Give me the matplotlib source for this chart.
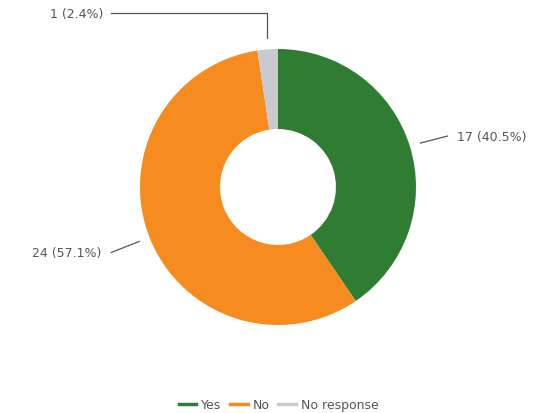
import numpy as np
import matplotlib
matplotlib.use("Agg")
import matplotlib.pyplot as plt
from matplotlib.lines import Line2D

categories = ["Yes", "No", "No response"]
values = [17, 24, 1]
colors = ["#2e7d32", "#f68b1f", "#c8cacf"]

W, H = 546, 414
fig = plt.figure(figsize=(W / 100, H / 100), dpi=100)
ax = fig.add_axes([0, 0, 1, 1])

cx, cy, R = 278, H - 188, 138
wedges, _ = ax.pie(values, colors=colors, startangle=90, counterclock=False,
                   radius=R, center=(cx, cy), frame=True,
                   wedgeprops=dict(width=R * 0.58, linewidth=0))
ax.set_xlim(0, W)
ax.set_ylim(0, H)
ax.set_aspect("equal")
ax.axis("off")

total = sum(values)
labels = [f"{v} ({v / total * 100:.1f}%)" for v in values]
lc = "#555555"
tc = "#555555"
fs = 9

for w, lab in zip(wedges, labels):
    ang = np.deg2rad((w.theta1 + w.theta2) / 2)
    ca, sa = np.cos(ang), np.sin(ang)
    x0, y0 = cx + 1.08 * R * ca, cy + 1.08 * R * sa
    if sa > 0.9:  # near top: elbow leader
        ytop = H - 14
        ax.plot([x0, x0, 111], [y0, ytop, ytop], color=lc, lw=0.9)
        ax.text(103, ytop, lab, ha="right", va="center", fontsize=fs, color=tc)
    elif ca > 0:
        x1, y1 = x0 + 27, y0 + 7
        ax.plot([x0, x1], [y0, y1], color=lc, lw=0.9)
        ax.text(x1 + 10, y1, lab, ha="left", va="center", fontsize=fs, color=tc)
    else:
        x1, y1 = x0 - 28, y0 - 11
        ax.plot([x0, x1], [y0, y1], color=lc, lw=0.9)
        ax.text(x1 - 10, y1, lab, ha="right", va="center", fontsize=fs, color=tc)

handles = [Line2D([0], [0], color=c, lw=2.5) for c in colors]
fig.legend(handles, categories, loc="center", bbox_to_anchor=(278.5 / W, 1 - 406 / H),
           ncol=3, frameon=False, fontsize=fs, handlelength=1.4, handletextpad=0.4,
           columnspacing=0.7, labelcolor="#555555")

fig.savefig("out.png", dpi=100)
